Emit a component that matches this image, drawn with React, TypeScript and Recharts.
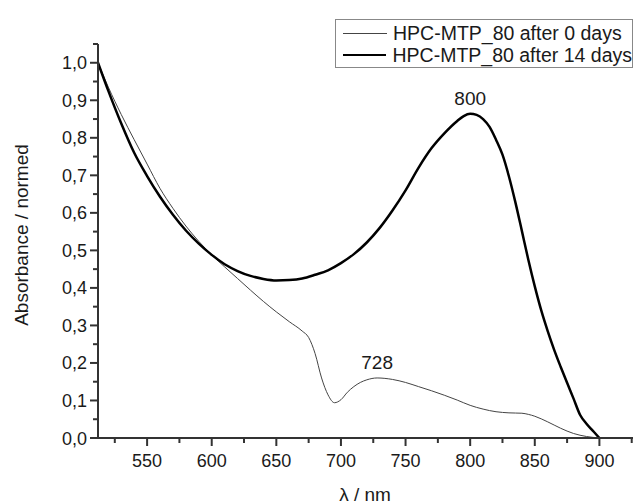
import {
  LineChart,
  Line,
  XAxis,
  YAxis,
  Legend,
  Label,
  ReferenceDot,
} from "recharts";

const thinWavelengths = [
  512, 520, 530, 540, 550, 560, 570, 580, 590, 600, 610, 620, 630, 640, 650,
  660, 670, 675, 680, 685, 690, 695, 700, 705, 710, 715, 720, 728, 740, 750,
  760, 770, 780, 790, 800, 810, 820, 830, 840, 845, 850, 860, 870, 880, 890,
  900,
];
const thinAbsorbance = [
  1.0, 0.935, 0.862, 0.795, 0.73, 0.665, 0.612, 0.565, 0.524, 0.488, 0.456,
  0.425, 0.394, 0.364, 0.336, 0.31, 0.285, 0.268, 0.225, 0.16, 0.115, 0.094,
  0.102, 0.122, 0.137, 0.148, 0.155, 0.16, 0.156, 0.148, 0.137, 0.126, 0.114,
  0.101, 0.087, 0.077, 0.07, 0.067, 0.066, 0.063, 0.058, 0.043, 0.026, 0.012,
  0.004, 0,
];

const thickWavelengths = [
  512, 520, 530, 540, 550, 560, 570, 580, 590, 600, 610, 620, 630, 640, 650,
  660, 670, 680, 690, 700, 710, 720, 730, 740, 750, 760, 770, 780, 790, 795,
  800, 805, 810, 815, 820, 825, 830, 835, 840, 845, 850, 855, 860, 865, 870,
  875, 880, 885, 890, 895, 900,
];
const thickAbsorbance = [
  1.0, 0.925, 0.838, 0.76, 0.698, 0.643, 0.595, 0.553, 0.518, 0.488, 0.463,
  0.445, 0.432, 0.424, 0.42, 0.421, 0.425, 0.435, 0.447, 0.466, 0.49, 0.521,
  0.56, 0.607, 0.66, 0.72, 0.772, 0.812, 0.845, 0.858, 0.864, 0.861, 0.85,
  0.829, 0.795, 0.755, 0.697, 0.628, 0.552, 0.475, 0.404, 0.34, 0.285, 0.235,
  0.19, 0.147, 0.105, 0.062, 0.038, 0.019, 0,
];

const seriesNames = ["HPC-MTP_80 after 0 days", "HPC-MTP_80 after 14 days"];
const seriesColors = ["#444444", "#000000"];
const seriesWidths = [1, 2.5];

const peakWavelengths = [800, 728];
const peakAbsorbance = [0.864, 0.16];

const xTicks = [
  525, 550, 575, 600, 625, 650, 675, 700, 725, 750, 775, 800, 825, 850, 875,
  900, 925,
];
const yTicks = [
  0, 0.05, 0.1, 0.15, 0.2, 0.25, 0.3, 0.35, 0.4, 0.45, 0.5, 0.55, 0.6, 0.65,
  0.7, 0.75, 0.8, 0.85, 0.9, 0.95, 1.0, 1.05,
];

const thinData = thinWavelengths.map((w, i) => ({
  wavelength: w,
  absorbance: thinAbsorbance[i],
}));
const thickData = thickWavelengths.map((w, i) => ({
  wavelength: w,
  absorbance: thickAbsorbance[i],
}));

const font = "'Liberation Sans', Arial, sans-serif";
const ink = "#1a1a1a";
const axisColor = "#333333";

function XTick({ x, y, payload }: any) {
  const major = payload.value % 50 === 0;
  return (
    <g>
      <line
        x1={x}
        y1={y}
        x2={x}
        y2={y + (major ? 8 : 5)}
        stroke={axisColor}
        strokeWidth={2}
      />
      {major && (
        <text
          x={x}
          y={y + 29}
          textAnchor="middle"
          fontFamily={font}
          fontSize={18}
          fill={ink}
        >
          {payload.value}
        </text>
      )}
    </g>
  );
}

function YTick({ x, y, payload }: any) {
  const v = Math.round(payload.value * 100);
  const major = v % 10 === 0;
  return (
    <g>
      <line
        x1={x}
        y1={y}
        x2={x - (major ? 8 : 5)}
        y2={y}
        stroke={axisColor}
        strokeWidth={2}
      />
      {major && (
        <text
          x={x - 11}
          y={y + 6.5}
          textAnchor="end"
          fontFamily={font}
          fontSize={18}
          fill={ink}
        >
          {(v / 100).toFixed(1).replace(".", ",")}
        </text>
      )}
    </g>
  );
}

function LegendBox() {
  return (
    <div
      style={{
        boxSizing: "border-box",
        width: 298,
        height: 49,
        border: "1px solid #888",
        background: "#fff",
        paddingTop: 2,
        paddingLeft: 7,
        fontFamily: font,
        fontSize: 19.5,
        color: ink,
      }}
    >
      {seriesNames.map((name, i) => (
        <div
          key={name}
          style={{
            display: "flex",
            alignItems: "center",
            height: 22,
            whiteSpace: "nowrap",
          }}
        >
          <div
            style={{
              width: 44,
              height: seriesWidths[i],
              background: seriesColors[i],
              marginRight: 6,
            }}
          />
          <span>{name}</span>
        </div>
      ))}
    </div>
  );
}

export default function App() {
  return (
    <div
      style={{
        position: "absolute",
        left: 0,
        top: 0,
        width: 633,
        height: 504,
        overflow: "hidden",
        background: "#fff",
      }}
    >
      <LineChart
        width={633}
        height={504}
        margin={{ top: 44, right: 0, bottom: 0, left: 0 }}
      >
        <XAxis
          type="number"
          dataKey="wavelength"
          domain={[512, 926]}
          ticks={xTicks}
          allowDataOverflow
          height={66}
          tickLine={false}
          tickSize={0}
          tickMargin={0}
          tick={<XTick />}
          axisLine={{ stroke: axisColor, strokeWidth: 2 }}
          interval={0}
        >
          <Label
            content={() => (
              <text
                x={365}
                y={501}
                textAnchor="middle"
                fontFamily={font}
                fontSize={19}
                fill={ink}
              >
                λ / nm
              </text>
            )}
          />
        </XAxis>
        <YAxis
          type="number"
          dataKey="absorbance"
          domain={[0, 1.05]}
          ticks={yTicks}
          allowDataOverflow
          width={98}
          tickLine={false}
          tickSize={0}
          tickMargin={0}
          tick={<YTick />}
          axisLine={{ stroke: axisColor, strokeWidth: 2 }}
          interval={0}
        >
          <Label
            content={() => (
              <text
                x={28}
                y={235}
                transform="rotate(-90 28 235)"
                textAnchor="middle"
                fontFamily={font}
                fontSize={19}
                fill={ink}
              >
                Absorbance / normed
              </text>
            )}
          />
        </YAxis>
        <Legend
          layout="vertical"
          align="center"
          verticalAlign="middle"
          wrapperStyle={{ left: 335, top: 19, width: 298 }}
          content={<LegendBox />}
        />
        <Line
          name={seriesNames[0]}
          data={thinData}
          dataKey="absorbance"
          type="monotone"
          stroke={seriesColors[0]}
          strokeWidth={seriesWidths[0]}
          dot={false}
          activeDot={false}
          isAnimationActive={false}
        />
        <Line
          name={seriesNames[1]}
          data={thickData}
          dataKey="absorbance"
          type="monotone"
          stroke={seriesColors[1]}
          strokeWidth={seriesWidths[1]}
          dot={false}
          activeDot={false}
          isAnimationActive={false}
        />
        {peakWavelengths.map((w, i) => (
          <ReferenceDot
            key={w}
            x={w}
            y={peakAbsorbance[i]}
            r={0}
            fill="none"
            stroke="none"
            label={{
              value: String(w),
              position: "top",
              offset: 9,
              fontFamily: font,
              fontSize: 19,
              fill: ink,
            }}
          />
        ))}
      </LineChart>
    </div>
  );
}
